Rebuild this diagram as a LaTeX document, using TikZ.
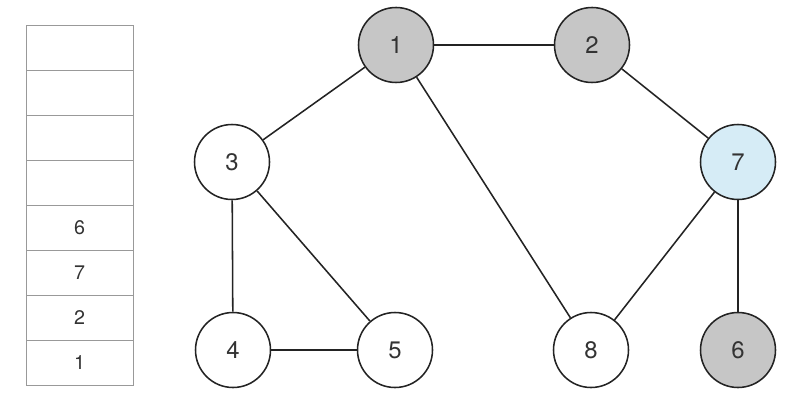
\documentclass[tikz,border=0pt]{standalone}
\usepackage{fontspec}
\setmainfont{TeX Gyre Heros}
\usepackage{tikz}
\usetikzlibrary{positioning}
\usepackage{xcolor}
\definecolor{visitgray}{RGB}{198,198,198}
\definecolor{curblue}{RGB}{214,236,246}
\definecolor{edgegray}{RGB}{35,35,35}

\begin{document}
\begin{tikzpicture}[
    vertex/.style={circle, draw=edgegray, line width=1.1pt, minimum size=1.875cm,
        inner sep=0pt, fill=white, font=\fontsize{17}{20}\selectfont, text=black!80},
    visited/.style={vertex, fill=visitgray},
    current/.style={vertex, fill=curblue},
    edge/.style={draw=edgegray, line width=1.1pt},
    cell/.style={font=\fontsize{14}{17}\selectfont, text=black!80}]

    \useasboundingbox (0, 0) rectangle (20.125, 9.95);

    % --- STACK ---
    \draw[gray!80, line width=0.7pt] (0.65, 0.325) rectangle (3.325, 9.325);
    \foreach \k in {1,...,7}
        \draw[gray!80, line width=0.7pt] (0.65, 0.325+1.125*\k) -- (3.325, 0.325+1.125*\k);
    \node[cell] (s1) at (1.9875, 0.8875) {1};
    \node[cell] (s2) at (1.9875, 2.0125) {2};
    \node[cell] (s3) at (1.9875, 3.1375) {7};
    \node[cell] (s4) at (1.9875, 4.2625) {6};

    % --- GRAPH ---
    \node[visited] (n1) at (9.9, 8.825) {1};
    \node[visited] (n2) at (14.8, 8.825) {2};
    \node[vertex]  (n3) at (5.8, 5.9) {3};
    \node[current] (n7) at (18.45, 5.9) {7};
    \node[vertex]  (n4) at (5.825, 1.2) {4};
    \node[vertex]  (n5) at (9.875, 1.2) {5};
    \node[vertex]  (n8) at (14.775, 1.2) {8};
    \node[visited] (n6) at (18.45, 1.2) {6};

    % edges
    \draw[edge] (n1) -- (n2);
    \draw[edge] (n1) -- (n3);
    \draw[edge] (n1) -- (n8);
    \draw[edge] (n2) -- (n7);
    \draw[edge] (n3) -- (n4);
    \draw[edge] (n3) -- (n5);
    \draw[edge] (n4) -- (n5);
    \draw[edge] (n7) -- (n8);
    \draw[edge] (n7) -- (n6);

\end{tikzpicture}
\end{document}
